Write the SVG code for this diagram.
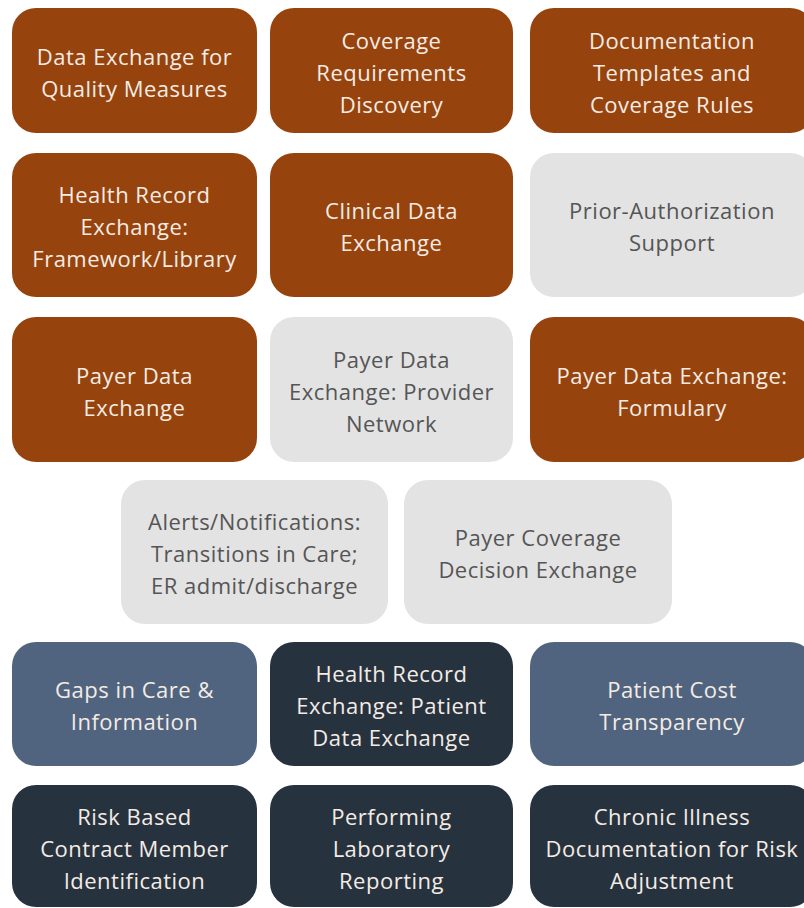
<svg xmlns="http://www.w3.org/2000/svg" width="804" height="908" viewBox="0 0 804 908">
<style>
  .box { stroke: none; }
  .or { fill: #97430E; }
  .gr { fill: #E3E3E3; }
  .sl { fill: #50647F; }
  .nv { fill: #27323F; }
  text { font-family: "Open Sans", "Lato", "Liberation Sans", sans-serif; font-size: 22px; letter-spacing: 0.5px; text-anchor: middle; }
  .lt { fill: #F4ECE4; }
  .dk { fill: #555555; }
</style>
<rect width="804" height="908" fill="#FFFFFF"/>
<g id="connectors"></g>

<g id="n-data-exchange-quality">
  <rect class="box or" x="12" y="8" width="245" height="125" rx="24"/>
  <text class="lt" x="134.5" y="64.5">Data Exchange for</text>
  <text class="lt" x="134.5" y="96.5">Quality Measures</text>
</g>
<g id="n-coverage-requirements">
  <rect class="box or" x="270" y="8" width="243" height="125" rx="24"/>
  <text class="lt" x="391.5" y="48.5">Coverage</text>
  <text class="lt" x="391.5" y="80.5">Requirements</text>
  <text class="lt" x="391.5" y="112.5">Discovery</text>
</g>
<g id="n-documentation-templates">
  <rect class="box or" x="530" y="8" width="284" height="125" rx="24"/>
  <text class="lt" x="672" y="48.5">Documentation</text>
  <text class="lt" x="672" y="80.5">Templates and</text>
  <text class="lt" x="672" y="112.5">Coverage Rules</text>
</g>

<g id="n-health-record-framework">
  <rect class="box or" x="12" y="153" width="245" height="144" rx="24"/>
  <text class="lt" x="134.5" y="203">Health Record</text>
  <text class="lt" x="134.5" y="235">Exchange:</text>
  <text class="lt" x="134.5" y="267">Framework/Library</text>
</g>
<g id="n-clinical-data-exchange">
  <rect class="box or" x="270" y="153" width="243" height="144" rx="24"/>
  <text class="lt" x="391.5" y="219">Clinical Data</text>
  <text class="lt" x="391.5" y="251">Exchange</text>
</g>
<g id="n-prior-authorization">
  <rect class="box gr" x="530" y="153" width="284" height="144" rx="24"/>
  <text class="dk" x="672" y="219">Prior-Authorization</text>
  <text class="dk" x="672" y="251">Support</text>
</g>

<g id="n-payer-data-exchange">
  <rect class="box or" x="12" y="317" width="245" height="145" rx="24"/>
  <text class="lt" x="134.5" y="383.5">Payer Data</text>
  <text class="lt" x="134.5" y="415.5">Exchange</text>
</g>
<g id="n-payer-provider-network">
  <rect class="box gr" x="270" y="317" width="243" height="145" rx="24"/>
  <text class="dk" x="391.5" y="367.5">Payer Data</text>
  <text class="dk" x="391.5" y="399.5">Exchange: Provider</text>
  <text class="dk" x="391.5" y="431.5">Network</text>
</g>
<g id="n-payer-formulary">
  <rect class="box or" x="530" y="317" width="284" height="145" rx="24"/>
  <text class="lt" x="672" y="383.5">Payer Data Exchange:</text>
  <text class="lt" x="672" y="415.5">Formulary</text>
</g>

<g id="n-alerts-notifications">
  <rect class="box gr" x="121" y="480" width="267" height="144" rx="24"/>
  <text class="dk" x="254.5" y="530">Alerts/Notifications:</text>
  <text class="dk" x="254.5" y="562">Transitions in Care;</text>
  <text class="dk" x="254.5" y="594">ER admit/discharge</text>
</g>
<g id="n-payer-coverage-decision">
  <rect class="box gr" x="404" y="480" width="268" height="144" rx="24"/>
  <text class="dk" x="538" y="546">Payer Coverage</text>
  <text class="dk" x="538" y="578">Decision Exchange</text>
</g>

<g id="n-gaps-in-care">
  <rect class="box sl" x="12" y="642" width="245" height="124" rx="24"/>
  <text class="lt" x="134.5" y="698">Gaps in Care &amp;</text>
  <text class="lt" x="134.5" y="730">Information</text>
</g>
<g id="n-health-record-patient">
  <rect class="box nv" x="270" y="642" width="243" height="124" rx="24"/>
  <text class="lt" x="391.5" y="682">Health Record</text>
  <text class="lt" x="391.5" y="714">Exchange: Patient</text>
  <text class="lt" x="391.5" y="746">Data Exchange</text>
</g>
<g id="n-patient-cost">
  <rect class="box sl" x="530" y="642" width="284" height="124" rx="24"/>
  <text class="lt" x="672" y="698">Patient Cost</text>
  <text class="lt" x="672" y="730">Transparency</text>
</g>

<g id="n-risk-based-contract">
  <rect class="box nv" x="12" y="785" width="245" height="122" rx="24"/>
  <text class="lt" x="134.5" y="824.5">Risk Based</text>
  <text class="lt" x="134.5" y="856.5">Contract Member</text>
  <text class="lt" x="134.5" y="888.5">Identification</text>
</g>
<g id="n-performing-lab">
  <rect class="box nv" x="270" y="785" width="243" height="122" rx="24"/>
  <text class="lt" x="391.5" y="824.5">Performing</text>
  <text class="lt" x="391.5" y="856.5">Laboratory</text>
  <text class="lt" x="391.5" y="888.5">Reporting</text>
</g>
<g id="n-chronic-illness">
  <rect class="box nv" x="530" y="785" width="284" height="122" rx="24"/>
  <text class="lt" x="672" y="824.5">Chronic Illness</text>
  <text class="lt" x="672" y="856.5">Documentation for Risk</text>
  <text class="lt" x="672" y="888.5">Adjustment</text>
</g>
</svg>
